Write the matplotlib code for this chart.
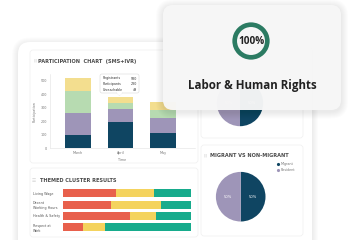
import numpy as np
import matplotlib
matplotlib.use("Agg")
import matplotlib.pyplot as plt
from matplotlib.patches import FancyBboxPatch

# data
months = ["March", "April", "May"]
navy_vals = [95, 196, 114]
purple_vals = [168, 93, 112]
green_vals = [162, 45, 58]
yellow_vals = [100, 49, 57]
yticks = [0, 100, 200, 300, 400, 500]

tip_labels = ["Registrants", "Participants", "Unreachable"]
tip_values = ["580", "230", "49"]

themes = ["Living Wage", "Decent\nWorking Hours", "Health & Safety", "Respect at\nWork"]
neg = [41.6, 37.7, 52.6, 15.6]
neu = [29.2, 39.1, 20.0, 17.4]
pos = [29.2, 23.2, 27.4, 67.0]

pie_labels = ["Migrant", "Resident"]
pie_vals = [50, 50]
score = 100

NAVY = "#0f4562"
PURPLE = "#9e95b8"
LGREEN = "#b7dbb1"
LYELLOW = "#f3de8f"
RED = "#e8604c"
YEL = "#f4d35e"
TEAL = "#17ab8c"
RING = "#2b7b62"
GRAY = "#8a8a8a"

W, H = 350, 240
fig = plt.figure(figsize=(3.5, 2.4), dpi=100)
fig.patch.set_facecolor("white")


def frac(x0, y0, x1, y1):
    return [x0 / W, 1 - y1 / H, (x1 - x0) / W, (y1 - y0) / H]


def card(ax, x0, y0, x1, y1, fc="white", ec="none", r=8, shadow=0, alpha=1, lw=0.5, z=1):
    for i in range(shadow, 0, -1):
        ax.add_patch(FancyBboxPatch((x0 - i, y0 - i + 1.5), x1 - x0 + 2 * i, y1 - y0 + 2 * i,
                                    boxstyle=f"round,pad=0,rounding_size={r + i}",
                                    fc="#000000", ec="none", alpha=0.012, zorder=z))
    ax.add_patch(FancyBboxPatch((x0, y0), x1 - x0, y1 - y0,
                                boxstyle=f"round,pad=0,rounding_size={r}",
                                fc=fc, ec=ec, lw=lw, alpha=alpha, zorder=z + 0.5))


def download(ax, x, y):
    ax.plot([x, x], [y - 2.2, y + 0.8], color=GRAY, lw=0.4)
    ax.plot([x - 1.2, x, x + 1.2], [y - 0.4, y + 0.8, y - 0.4], color=GRAY, lw=0.4)
    ax.plot([x - 1.8, x + 1.8], [y + 2, y + 2], color=GRAY, lw=0.4)


# background layer
bg = fig.add_axes([0, 0, 1, 1])
bg.set_xlim(0, W)
bg.set_ylim(H, 0)
bg.axis("off")

card(bg, 18, 42, 312, 262, shadow=6, r=12)
card(bg, 30, 50, 198, 163, ec="#f0f0f0", r=3, z=2)
card(bg, 30, 168, 198, 237, ec="#f0f0f0", r=3, z=2)
card(bg, 201, 46, 303, 138, ec="#f0f0f0", r=3, z=2)
card(bg, 201, 145, 303, 236, ec="#f0f0f0", r=3, z=2)

title_kw = dict(fontsize=3.6, color="#4a4a4a", fontweight="bold", va="center", zorder=4)
bg.text(33, 61, "|||", fontsize=2.8, color="#cccccc", va="center", zorder=4)
bg.text(38.5, 61, "PARTICIPATION  CHART  (SMS+IVR)", **title_kw)
bg.text(32, 180, "\u2630", fontsize=3.3, color="#d0d0d0", va="center", zorder=4)
bg.text(40, 180, "THEMED CLUSTER RESULTS", **title_kw)
download(bg, 190, 179.5)
bg.text(204, 155.5, "|||", fontsize=2.8, color="#cccccc", va="center", zorder=4)
bg.text(209.5, 155.5, "MIGRANT VS NON-MIGRANT", **title_kw)
download(bg, 299, 154.5)

# stacked bar chart
ax = fig.add_axes(frac(50, 74.3, 195, 148), zorder=3)
ax.patch.set_alpha(0)
x = np.arange(len(months))
bottom = np.zeros(len(months))
for vals, c in [(navy_vals, NAVY), (purple_vals, PURPLE), (green_vals, LGREEN), (yellow_vals, LYELLOW)]:
    ax.bar(x, vals, width=0.61, bottom=bottom, color=c)
    bottom += np.array(vals)
ax.set_xlim(-0.659, 2.753)
ax.set_ylim(0, 550)
ax.set_yticks(yticks)
ax.set_xticks(x, months)
ax.tick_params(labelsize=2.4, labelcolor="#777777", length=0, pad=2)
for s in ["top", "right"]:
    ax.spines[s].set_visible(False)
for s in ["left", "bottom"]:
    ax.spines[s].set_color("#e2e2e2")
    ax.spines[s].set_linewidth(0.4)
ax.set_ylabel("Participation", fontsize=2.4, color="#777777", labelpad=3)
ax.set_xlabel("Time", fontsize=2.4, color="#777777", labelpad=2)

# tooltip
card(bg, 100, 74, 139, 93, ec="#d8d8d8", r=2, z=5, lw=0.4)
bg.plot([117, 119.5, 122], [93, 95.5, 93], color="#d8d8d8", lw=0.4, zorder=6)
bg.fill([117.3, 119.5, 121.7], [92.6, 95, 92.6], color="white", zorder=6)
for i, (lab, val) in enumerate(zip(tip_labels, tip_values)):
    bg.text(102.5, 78.5 + i * 5.8, lab, fontsize=2.3, color="#333333", va="center", zorder=7)
    bg.text(137, 78.5 + i * 5.8, val, fontsize=2.3, color="#333333", va="center", ha="right", zorder=7)

# themed cluster results
hx = fig.add_axes(frac(62.7, 187, 191, 234), zorder=3)
hx.patch.set_alpha(0)
y = np.arange(len(themes))
left = np.zeros(len(themes))
for vals, c in [(neg, RED), (neu, YEL), (pos, TEAL)]:
    hx.barh(y, vals, left=left, height=0.7, color=c)
    left += np.array(vals)
hx.set_xlim(0, 100)
hx.set_ylim(3.59, -0.556)
hx.set_yticks(y, themes)
hx.set_xticks([])
hx.tick_params(axis="y", length=0, pad=21.4, labelsize=2.4, labelcolor="#555555")
for t in hx.get_yticklabels():
    t.set_ha("left")
    t.set_linespacing(1.3)
for s in hx.spines.values():
    s.set_visible(False)

# pies
for box in [frac(211, 74, 269, 132), frac(209.7, 165.7, 271.7, 227.7)]:
    px = fig.add_axes(box, zorder=3)
    px.pie(pie_vals, colors=[NAVY, PURPLE], startangle=90, counterclock=False,
           autopct="%d%%", pctdistance=0.5,
           textprops=dict(fontsize=2.6, color="white"))
    px.set_aspect("equal")

# legend for lower pie
for i, (lab, c) in enumerate(zip(pie_labels, [NAVY, PURPLE])):
    bg.scatter(277.5, 164.3 + i * 5.7, s=1.6, color=c, zorder=5)
    bg.text(280.5, 164.3 + i * 5.7, lab, fontsize=2.4, color="#777777", va="center", zorder=5)

# overlay card
ov = fig.add_axes([0, 0, 1, 1], zorder=10)
ov.set_xlim(0, W)
ov.set_ylim(H, 0)
ov.axis("off")
ov.patch.set_alpha(0)
card(ov, 163, 5, 341, 110, fc="#f7f7f7", r=10, shadow=7, alpha=0.97)
ov.text(252, 86, "Labor & Human Rights", fontsize=8.3, fontweight="bold",
        family="Open Sans", color="#222222", ha="center", va="center", zorder=12)

dx = fig.add_axes(frac(227.7, 17.7, 274.3, 64.3), zorder=11)
dx.pie([score, 100 - score], colors=[RING, "white"], startangle=90,
       wedgeprops=dict(width=0.25))
dx.set_aspect("equal")
dx.text(0, 0, f"{score}%", fontsize=7.2, fontweight="bold", family="Open Sans",
        color="#222222", ha="center", va="center")

fig.savefig("out.png", dpi=100)
